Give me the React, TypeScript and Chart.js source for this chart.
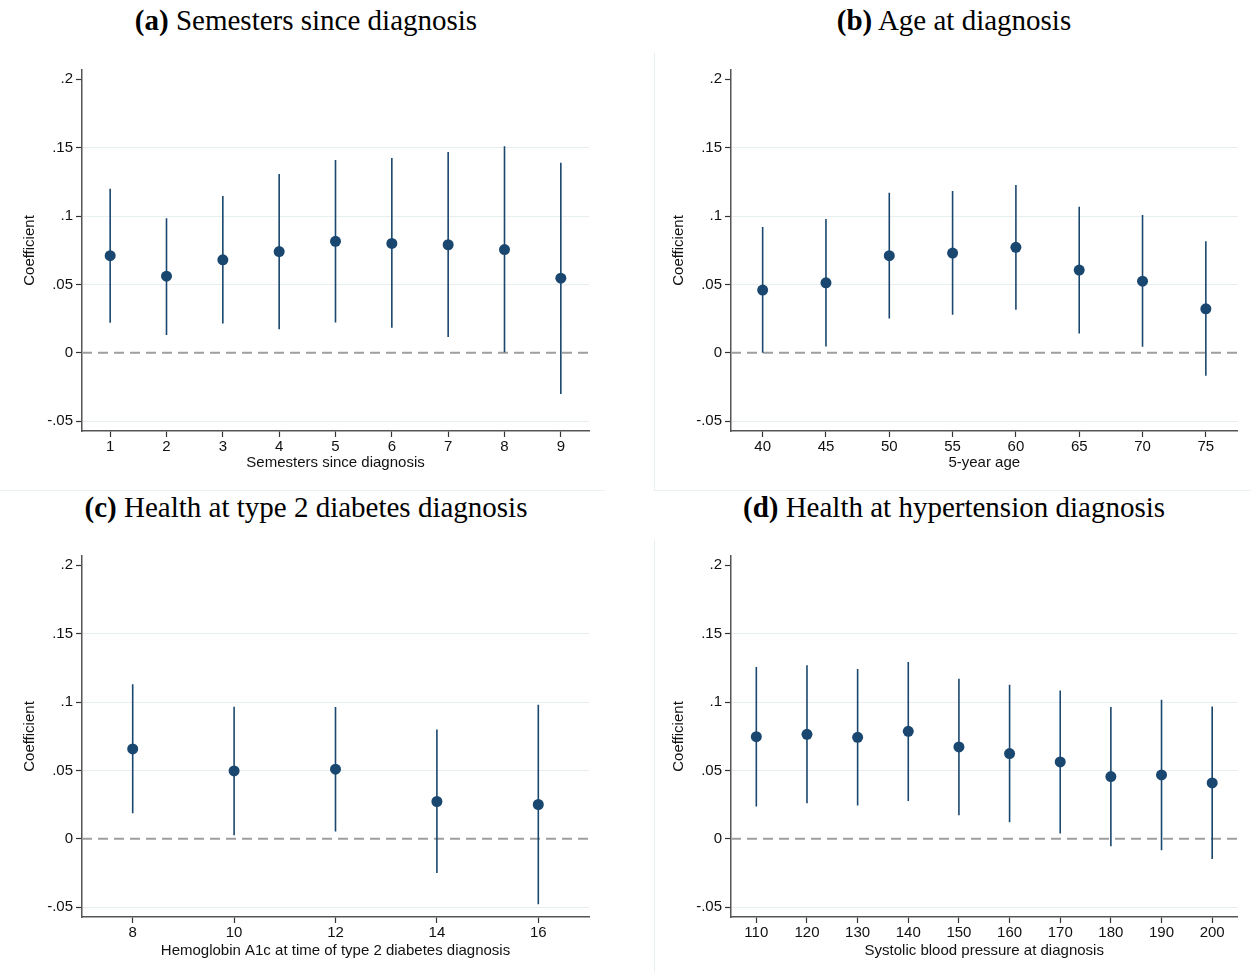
import React, { useEffect, useRef } from 'react';
import { Chart, registerables } from 'chart.js';

Chart.register(...registerables);

// ---------- DATA ----------
const Y_TICKS = [-0.05, 0, 0.05, 0.1, 0.15, 0.2];
const Y_TICK_LABELS = ['-.05', '0', '.05', '.1', '.15', '.2'];
const Y_MIN = -0.0571;
const Y_MAX = 0.2067;

const A_X = [1, 2, 3, 4, 5, 6, 7, 8, 9];
const A_COEF = [0.071, 0.056, 0.068, 0.074, 0.0815, 0.08, 0.079, 0.0755, 0.0546];
const A_LO = [0.022, 0.013, 0.0215, 0.0173, 0.0222, 0.0183, 0.0115, 0.0005, -0.03];
const A_HI = [0.12, 0.0983, 0.1146, 0.1307, 0.141, 0.1424, 0.1468, 0.151, 0.139];

const B_X = [40, 45, 50, 55, 60, 65, 70, 75];
const B_COEF = [0.0459, 0.0512, 0.071, 0.0729, 0.0771, 0.0605, 0.0524, 0.0322];
const B_LO = [0.0, 0.0046, 0.0251, 0.0278, 0.0315, 0.0141, 0.0044, -0.0168];
const B_HI = [0.092, 0.0978, 0.117, 0.1183, 0.1227, 0.1068, 0.1007, 0.0815];

const C_X = [8, 10, 12, 14, 16];
const C_COEF = [0.0657, 0.0496, 0.0509, 0.0273, 0.0251];
const C_LO = [0.0187, 0.0027, 0.0054, -0.025, -0.0477];
const C_HI = [0.1129, 0.0966, 0.0964, 0.08, 0.098];

const D_X = [110, 120, 130, 140, 150, 160, 170, 180, 190, 200];
const D_COEF = [0.0747, 0.0764, 0.0742, 0.0786, 0.0672, 0.0623, 0.0562, 0.0455, 0.0467, 0.0409];
const D_LO = [0.0236, 0.026, 0.0243, 0.0277, 0.0173, 0.0122, 0.0039, -0.0054, -0.0083, -0.0148];
const D_HI = [0.1255, 0.1268, 0.1241, 0.1292, 0.117, 0.1127, 0.1085, 0.0964, 0.1017, 0.0968];

const TITLE_A = 'Semesters since diagnosis';
const TITLE_B = 'Age at diagnosis';
const TITLE_C = 'Health at type 2 diabetes diagnosis';
const TITLE_D = 'Health at hypertension diagnosis';

const XLABEL_A = 'Semesters since diagnosis';
const XLABEL_B = '5-year age';
const XLABEL_C = 'Hemoglobin A1c at time of type 2 diabetes diagnosis';
const XLABEL_D = 'Systolic blood pressure at diagnosis';
const YLABEL = 'Coefficient';

// ---------- STYLE ----------
const NAVY = '#1a476f';
const SANS = '"Liberation Sans", Arial, sans-serif';
const FS = 15;
const GRID = '#e7eef0';
const AXIS = '#555555';
const LIGHT_BORDER = '#e9f0f0';

type PanelProps = {
  left: number;
  top: number;
  width: number;
  height: number;
  xs: number[];
  coef: number[];
  lo: number[];
  hi: number[];
  xMin: number;
  xMax: number;
  xLabel: string;
  yAxisWidth: number;
  xAxisHeight: number;
  padTop: number;
  padRight: number;
  yTitlePad: number;
  xTitlePad: number;
};

function Panel(p: PanelProps) {
  const ref = useRef<HTMLCanvasElement | null>(null);

  useEffect(() => {
    if (!ref.current) return;
    const points = p.xs.map((x, i) => ({ x, y: p.coef[i] }));
    const bars: { x: number; y: number | null }[] = [];
    p.xs.forEach((x, i) => {
      bars.push({ x, y: p.lo[i] }, { x, y: p.hi[i] }, { x, y: null });
    });
    const zero = [
      { x: p.xMin, y: 0 },
      { x: p.xMax, y: 0 },
    ];

    const chart = new Chart(ref.current, {
      type: 'scatter',
      data: {
        datasets: [
          {
            data: points,
            pointRadius: 5.5,
            pointBackgroundColor: NAVY,
            pointBorderColor: NAVY,
            pointBorderWidth: 0,
            showLine: false,
            order: 1,
          },
          {
            data: bars as any,
            showLine: true,
            spanGaps: false,
            pointRadius: 0,
            borderColor: NAVY,
            borderWidth: 1.6,
            order: 2,
          },
          {
            data: zero,
            showLine: true,
            pointRadius: 0,
            borderColor: '#9e9e9e',
            borderWidth: 2,
            borderDash: [10, 6],
            order: 3,
          },
        ],
      },
      options: {
        responsive: false,
        maintainAspectRatio: false,
        animation: false,
        devicePixelRatio: 1,
        events: [],
        layout: { padding: { left: 0, top: p.padTop, right: p.padRight, bottom: 0 } },
        plugins: { legend: { display: false }, tooltip: { enabled: false } },
        scales: {
          x: {
            type: 'linear',
            min: p.xMin,
            max: p.xMax,
            afterBuildTicks: (s: any) => {
              s.ticks = p.xs.map((v) => ({ value: v }));
            },
            afterFit: (s: any) => {
              s.height = p.xAxisHeight;
            },
            ticks: {
              autoSkip: false,
              maxRotation: 0,
              padding: 1,
              color: '#111',
              font: { family: SANS, size: FS },
              callback: (v: any) => String(v),
            },
            grid: {
              display: true,
              drawOnChartArea: false,
              drawTicks: true,
              tickLength: 6,
              tickColor: '#333',
              tickWidth: 1.2,
            },
            border: { display: true, color: AXIS, width: 1.5 },
            title: {
              display: true,
              text: p.xLabel,
              color: '#111',
              font: { family: SANS, size: FS },
              padding: { top: 0, bottom: p.xTitlePad },
            },
          },
          y: {
            type: 'linear',
            min: Y_MIN,
            max: Y_MAX,
            afterBuildTicks: (s: any) => {
              s.ticks = Y_TICKS.map((v) => ({ value: v }));
            },
            afterFit: (s: any) => {
              s.width = p.yAxisWidth;
            },
            ticks: {
              padding: 3,
              color: '#111',
              font: { family: SANS, size: FS },
              callback: (_v: any, i: number) => Y_TICK_LABELS[i],
            },
            grid: {
              display: true,
              drawOnChartArea: true,
              drawTicks: true,
              tickLength: 6,
              tickColor: '#333',
              tickWidth: 1.2,
              lineWidth: 1,
              color: (ctx: any) => {
                const v = ctx.tick ? ctx.tick.value : null;
                if (v === 0 || v === 0.2) return 'rgba(0,0,0,0)';
                return GRID;
              },
            },
            border: { display: true, color: AXIS, width: 1.5 },
            title: {
              display: true,
              text: YLABEL,
              color: '#111',
              font: { family: SANS, size: FS },
              padding: { top: p.yTitlePad, bottom: 0 },
            },
          },
        },
      } as any,
    });
    return () => chart.destroy();
  }, []);

  return (
    <canvas
      ref={ref}
      width={p.width}
      height={p.height}
      style={{ position: 'absolute', left: p.left, top: p.top, width: p.width, height: p.height }}
    />
  );
}

function Title({ cx, top, tag, text }: { cx: number; top: number; tag: string; text: string }) {
  return (
    <div
      style={{
        position: 'absolute',
        left: cx - 320,
        width: 640,
        top,
        textAlign: 'center',
        fontFamily: '"Liberation Serif", "Times New Roman", serif',
        fontSize: 29,
        lineHeight: '29px',
        color: '#000',
        whiteSpace: 'nowrap',
      }}
    >
      <b>{tag}</b> {text}
    </div>
  );
}

export default function App() {
  return (
    <div
      style={{
        position: 'absolute',
        left: 0,
        top: 0,
        width: 1251,
        height: 972,
        overflow: 'hidden',
        background: '#fff',
      }}
    >
      {/* faint graph-region outlines */}
      <div style={{ position: 'absolute', left: 654, top: 53, width: 1, height: 437, background: LIGHT_BORDER }} />
      <div style={{ position: 'absolute', left: 654, top: 540, width: 1, height: 432, background: LIGHT_BORDER }} />
      <div style={{ position: 'absolute', left: 0, top: 490, width: 605, height: 1, background: LIGHT_BORDER }} />
      <div style={{ position: 'absolute', left: 654, top: 490, width: 597, height: 1, background: LIGHT_BORDER }} />

      <Title cx={306} top={6} tag="(a)" text={TITLE_A} />
      <Title cx={954} top={6} tag="(b)" text={TITLE_B} />
      <Title cx={306} top={493} tag="(c)" text={TITLE_C} />
      <Title cx={954} top={493} tag="(d)" text={TITLE_D} />

      <Panel
        left={0} top={50} width={620} height={440}
        xs={A_X} coef={A_COEF} lo={A_LO} hi={A_HI}
        xMin={0.5} xMax={9.5} xLabel={XLABEL_A}
        yAxisWidth={82} xAxisHeight={59} padTop={20} padRight={31}
        yTitlePad={21} xTitlePad={18.5}
      />
      <Panel
        left={640} top={50} width={611} height={440}
        xs={B_X} coef={B_COEF} lo={B_LO} hi={B_HI}
        xMin={37.5} xMax={77.5} xLabel={XLABEL_B}
        yAxisWidth={91} xAxisHeight={59} padTop={20} padRight={13.5}
        yTitlePad={29.6} xTitlePad={18.5}
      />
      <Panel
        left={0} top={536} width={620} height={436}
        xs={C_X} coef={C_COEF} lo={C_LO} hi={C_HI}
        xMin={7} xMax={17} xLabel={XLABEL_C}
        yAxisWidth={82} xAxisHeight={55} padTop={20} padRight={31}
        yTitlePad={21} xTitlePad={12.5}
      />
      <Panel
        left={640} top={536} width={611} height={436}
        xs={D_X} coef={D_COEF} lo={D_LO} hi={D_HI}
        xMin={105} xMax={205} xLabel={XLABEL_D}
        yAxisWidth={91} xAxisHeight={55} padTop={20} padRight={13.5}
        yTitlePad={29.6} xTitlePad={12.5}
      />
    </div>
  );
}
